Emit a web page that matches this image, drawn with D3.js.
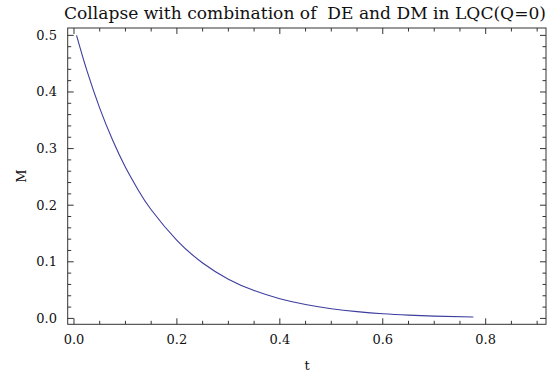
<!DOCTYPE html>
<html><head><meta charset="utf-8">
<script src="https://cdn.jsdelivr.net/npm/d3@7"></script>
<style>body{margin:0;background:#fff}svg{display:block}</style>
</head><body><svg id="c" width="553" height="383"></svg>
<script>
const titleText = "Collapse with combination of  DE and DM in LQC(Q=0)";
const xLabel = "t", yLabel = "M";
const tValues = [0.005,0.025,0.05,0.075,0.1,0.125,0.15,0.2,0.25,0.3,0.35,0.4,0.45,0.5,0.55,0.6,0.65,0.7,0.776];
const mValues = [0.500,0.438,0.3715,0.315,0.267,0.2265,0.192,0.138,0.098,0.0693,0.0492,0.0348,0.0245,0.0171,0.0120,0.0083,0.0058,0.0041,0.0024];
const xTicks = [0.0,0.2,0.4,0.6,0.8];
const yTicks = [0.0,0.1,0.2,0.3,0.4,0.5];

const FONT = "'DejaVu Serif'";
const svg = d3.select("#c");
const L = 67.7, R = 546, T = 28, B = 324.3;
const x = d3.scaleLinear().domain([-0.0122, 0.9172]).range([L, R]);
const y = d3.scaleLinear().domain([-0.0104, 0.513]).range([B, T]);
const data = tValues.map((t,i)=>[t,mValues[i]]);

const fmt = d3.format(".1f");
const g = svg.append("g");
g.append("rect").attr("x",L).attr("y",T).attr("width",R-L).attr("height",B-T)
 .attr("fill","none").attr("stroke","#333").attr("stroke-width",1);

const xMinor = d3.range(0, 0.92, 0.05).filter(v=>v>x.domain()[0]&&v<x.domain()[1]);
const yMinor = d3.range(0, 0.52, 0.02).filter(v=>v>y.domain()[0]&&v<y.domain()[1]);
function isMajor(v, step){return Math.abs(v/step - Math.round(v/step))<1e-6;}

xMinor.forEach(v=>{
  const len = isMajor(v,0.2)?6:3.5;
  g.append("line").attr("x1",x(v)).attr("x2",x(v)).attr("y1",B).attr("y2",B-len).attr("stroke","#333");
  g.append("line").attr("x1",x(v)).attr("x2",x(v)).attr("y1",T).attr("y2",T+len).attr("stroke","#333");
});
yMinor.forEach(v=>{
  const len = isMajor(v,0.1)?6:3.5;
  g.append("line").attr("y1",y(v)).attr("y2",y(v)).attr("x1",L).attr("x2",L+len).attr("stroke","#333");
  g.append("line").attr("y1",y(v)).attr("y2",y(v)).attr("x1",R).attr("x2",R-len).attr("stroke","#333");
});

xTicks.forEach(v=>{
  g.append("text").attr("x",x(v)).attr("y",344).attr("text-anchor","middle").attr("font-family",FONT).attr("font-size",13).attr("fill","#111").text(fmt(v));
});
yTicks.forEach(v=>{
  g.append("text").attr("x",57).attr("y",y(v)+4.5).attr("text-anchor","end").attr("font-family",FONT).attr("font-size",13).attr("fill","#111").text(fmt(v));
});

const line = d3.line().x(d=>x(d[0])).y(d=>y(d[1])).curve(d3.curveNatural);
g.append("path").datum(data).attr("d",line).attr("fill","none").attr("stroke","#3d3d9e").attr("stroke-width",1.1);

svg.append("text").attr("x",64).attr("y",19).attr("font-family",FONT).attr("font-size",17).attr("fill","#111")
  .attr("textLength",482).attr("lengthAdjust","spacingAndGlyphs").style("white-space","pre").text(titleText);
svg.append("text").attr("x",307).attr("y",370).attr("text-anchor","middle").attr("font-family",FONT).attr("font-size",13).attr("fill","#111").text(xLabel);
svg.append("text").attr("transform","translate(26,176) rotate(-90)").attr("text-anchor","middle").attr("font-family",FONT).attr("font-size",13).attr("fill","#111").text(yLabel);
</script></body></html>
